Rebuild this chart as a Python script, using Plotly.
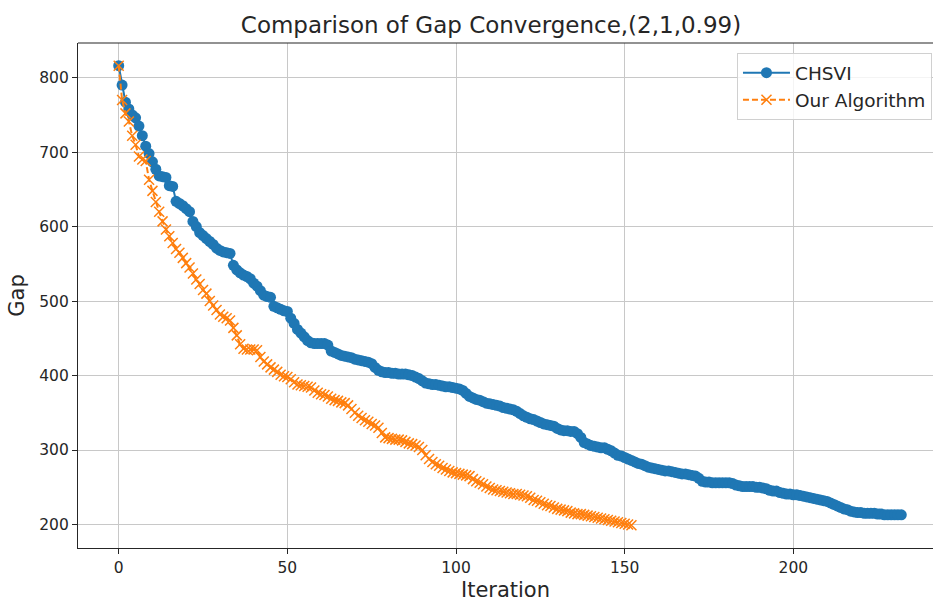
import plotly.graph_objects as go

# ---- data ----
chsvi_gap = [
    816, 790, 767, 758, 750, 746, 735, 722, 708, 698,
    687, 677, 668, 667, 666, 655, 654, 634, 631, 628,
    624, 620, 607, 600, 592, 588, 584, 580, 576, 571,
    568, 566, 565, 564, 548, 542, 538, 535, 533, 530,
    524, 520, 514, 508, 506, 505, 493, 491, 489, 487,
    486, 477, 470, 462, 457, 452, 447, 444, 443, 443,
    443, 443, 441, 433, 431, 429, 427, 426, 425, 424,
    422, 421, 420, 419, 418, 416, 411, 407, 405, 404,
    404, 403, 403, 402, 402, 402, 401, 400, 398, 396,
    393, 390, 389, 388, 388, 387, 386, 385, 385, 384,
    383, 382, 380, 376, 372, 370, 368, 367, 365, 363,
    362, 361, 360, 359, 357, 356, 355, 354, 352, 349,
    346, 344, 342, 341, 339, 337, 335, 334, 333, 332,
    329, 327, 326, 326, 325, 325, 322, 317, 310, 308,
    306, 305, 304, 303, 303, 301, 299, 296, 293, 292,
    290, 288, 286, 284, 282, 281, 279, 277, 276, 275,
    274, 273, 272, 272, 271, 270, 269, 268, 268, 267,
    266, 265, 262, 258, 257, 257, 256, 256, 256, 256,
    256, 256, 255, 253, 252, 251, 251, 251, 251, 250,
    250, 249, 248, 246, 245, 245, 243, 242, 241, 241,
    240, 240, 239, 238, 237, 236, 235, 234, 233, 232,
    231, 229, 227, 225, 223, 221, 220, 218, 217, 216,
    216, 215, 215, 215, 215, 214, 214, 213, 213, 213,
    213, 213, 213,
]

ours_gap = [
    816, 770, 752, 741, 722, 710, 694, 690, 688, 663,
    648, 633, 620, 607, 596, 587, 578, 570, 565, 558,
    551, 545, 537, 529, 523, 515, 510, 500, 494, 488,
    482, 479, 477, 474, 464, 454, 442, 436, 435, 435,
    435, 434, 425, 419, 415, 411, 408, 405, 401, 399,
    398, 395, 391, 388, 387, 386, 385, 384, 380, 377,
    375, 374, 372, 369, 367, 366, 364, 363, 360, 355,
    350, 346, 343, 340, 338, 335, 333, 330, 323, 317,
    316, 315, 314, 314, 313, 311, 309, 308, 306, 304,
    300, 293, 288, 284, 281, 279, 276, 274, 272, 270,
    269, 268, 267, 266, 265, 261, 258, 256, 254, 251,
    249, 247, 246, 245, 244, 243, 242, 241, 241, 240,
    239, 238, 236, 233, 232, 230, 228, 226, 225, 223,
    221, 220, 219, 218, 216, 215, 214, 214, 213, 212,
    211, 210, 209, 208, 207, 206, 205, 204, 203, 202,
    201, 200, 199,
]

chsvi_iter = list(range(len(chsvi_gap)))
ours_iter = list(range(len(ours_gap)))

x_ticks = [0, 50, 100, 150, 200]
y_ticks = [200, 300, 400, 500, 600, 700, 800]

title_text = "Comparison of Gap Convergence,(2,1,0.99)"
x_label = "Iteration"
y_label = "Gap"
series_names = ["CHSVI", "Our Algorithm"]

BLUE = "#1f77b4"
ORANGE = "#ff7f0e"
FONT = "DejaVu Sans, Verdana, sans-serif"
TXT = "#262626"

fig = go.Figure()
fig.add_trace(go.Scatter(
    x=chsvi_iter, y=chsvi_gap, name=series_names[0], mode="lines+markers",
    line=dict(color=BLUE, width=2),
    marker=dict(symbol="circle", size=11, color=BLUE),
))
fig.add_trace(go.Scatter(
    x=ours_iter, y=ours_gap, name=series_names[1], mode="lines+markers",
    line=dict(color=ORANGE, width=2, dash="6px,3px"),
    marker=dict(symbol="x-thin", size=10, color=ORANGE,
                line=dict(color=ORANGE, width=1.5)),
))

axis_common = dict(
    showgrid=True, gridcolor="#c8c8c8", gridwidth=1,
    zeroline=False, showline=True, linecolor=TXT, linewidth=1.2,
    ticks="outside", ticklen=5, tickwidth=1, tickcolor=TXT,
    tickfont=dict(family=FONT, size=15.5, color=TXT),
)

fig.update_layout(
    width=933, height=607,
    margin=dict(l=78, r=0, t=43, b=59),
    paper_bgcolor="white", plot_bgcolor="white",
    font=dict(family=FONT, color=TXT),
    title=dict(text=title_text, x=(491 - 78) / 855, xref="paper",
               xanchor="center", y=1 - 25 / 607, yref="container",
               yanchor="middle",
               font=dict(family=FONT, size=23, color=TXT)),
    xaxis=dict(range=[-12.07, 241.4], tickvals=x_ticks,
               title=dict(text=x_label, standoff=6,
                          font=dict(family=FONT, size=21, color=TXT)),
               **axis_common),
    yaxis=dict(range=[168.5, 846.5], tickvals=y_ticks,
               title=dict(text=y_label, standoff=8,
                          font=dict(family=FONT, size=21, color=TXT)),
               **axis_common),
    legend=dict(x=0.9988, y=0.980, xanchor="right", yanchor="top",
                bgcolor="rgba(255,255,255,0.8)", bordercolor="#d0d0d0",
                borderwidth=1, itemwidth=47,
                font=dict(family=FONT, size=18.5, color=TXT)),
    showlegend=True,
)

# top spine (the right spine lies outside the visible window in the reference)
fig.add_shape(type="line", xref="paper", yref="paper", x0=0, x1=1, y0=1, y1=1,
              line=dict(color=TXT, width=1.2))

fig.write_html("out.html")
